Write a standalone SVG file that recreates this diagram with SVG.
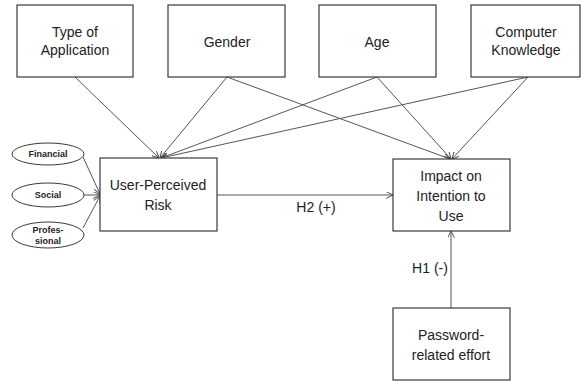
<svg xmlns="http://www.w3.org/2000/svg" width="581" height="381" viewBox="0 0 581 381">
<style>
.box{fill:#fff;stroke:#3a3a3a;stroke-width:1.2}
.ell{fill:#fff;stroke:#3a3a3a;stroke-width:1}
.lbl{font-family:"Liberation Sans",Arial,sans-serif;font-size:14px;fill:#222;text-anchor:middle}
.sm{font-family:"Liberation Sans",Arial,sans-serif;font-size:9px;font-weight:bold;fill:#222;text-anchor:middle}
.con{stroke:#555;stroke-width:1;fill:none;marker-end:url(#arr)}
</style>
<defs>
<marker id="arr" viewBox="0 0 10 10" refX="10" refY="5" markerWidth="7" markerHeight="7" markerUnits="userSpaceOnUse" orient="auto">
<path d="M0,0 L10,5 L0,10" fill="none" stroke="#444" stroke-width="1.3"/>
</marker>
</defs>
<rect width="581" height="381" fill="#fff"/>
<g id="connectors">
<line class="con" x1="75" y1="77" x2="159" y2="158"/>
<line class="con" x1="227" y1="77" x2="160" y2="158"/>
<line class="con" x1="227" y1="77" x2="450" y2="159"/>
<line class="con" x1="377" y1="77" x2="161" y2="158"/>
<line class="con" x1="377" y1="77" x2="451" y2="159"/>
<line class="con" x1="528" y1="77" x2="161" y2="158"/>
<line class="con" x1="528" y1="77" x2="452" y2="159"/>
<line class="con" x1="83" y1="157" x2="100" y2="194"/>
<line class="con" x1="84" y1="195" x2="100" y2="195"/>
<line class="con" x1="83" y1="228" x2="100" y2="196"/>
<line class="con" x1="217" y1="195" x2="393" y2="195"/>
<line class="con" x1="451" y1="308" x2="451" y2="231"/>
<text class="lbl" x="316" y="212">H2 (+)</text>
<text class="lbl" x="430" y="273">H1 (-)</text>
</g>
<g id="type-of-application">
<rect class="box" x="17" y="5" width="116" height="72"/>
<text class="lbl" x="75" y="37">Type of</text>
<text class="lbl" x="75" y="55">Application</text>
</g>
<g id="gender">
<rect class="box" x="168" y="5" width="117" height="72"/>
<text class="lbl" x="227" y="47">Gender</text>
</g>
<g id="age">
<rect class="box" x="319" y="5" width="117" height="72"/>
<text class="lbl" x="377" y="47">Age</text>
</g>
<g id="computer-knowledge">
<rect class="box" x="471" y="5" width="109" height="72"/>
<text class="lbl" x="526" y="37">Computer</text>
<text class="lbl" x="526" y="55">Knowledge</text>
</g>
<g id="user-perceived-risk">
<rect class="box" x="100" y="158" width="117" height="73"/>
<text class="lbl" x="158" y="190">User-Perceived</text>
<text class="lbl" x="158" y="210">Risk</text>
</g>
<g id="impact">
<rect class="box" x="393" y="159" width="117" height="72"/>
<text class="lbl" x="451" y="181">Impact on</text>
<text class="lbl" x="451" y="201">Intention to</text>
<text class="lbl" x="451" y="221">Use</text>
</g>
<g id="password-effort">
<rect class="box" x="393" y="308" width="117" height="72"/>
<text class="lbl" x="451" y="340">Password-</text>
<text class="lbl" x="451" y="360">related effort</text>
</g>
<g id="financial">
<ellipse class="ell" cx="48" cy="154" rx="36" ry="11"/>
<text class="sm" x="48" y="157">Financial</text>
</g>
<g id="social">
<ellipse class="ell" cx="48" cy="195" rx="36" ry="12"/>
<text class="sm" x="48" y="198">Social</text>
</g>
<g id="professional">
<ellipse class="ell" cx="48" cy="235" rx="36" ry="13"/>
<text class="sm" x="48" y="233">Profes-</text>
<text class="sm" x="48" y="244">sional</text>
</g>
</svg>
